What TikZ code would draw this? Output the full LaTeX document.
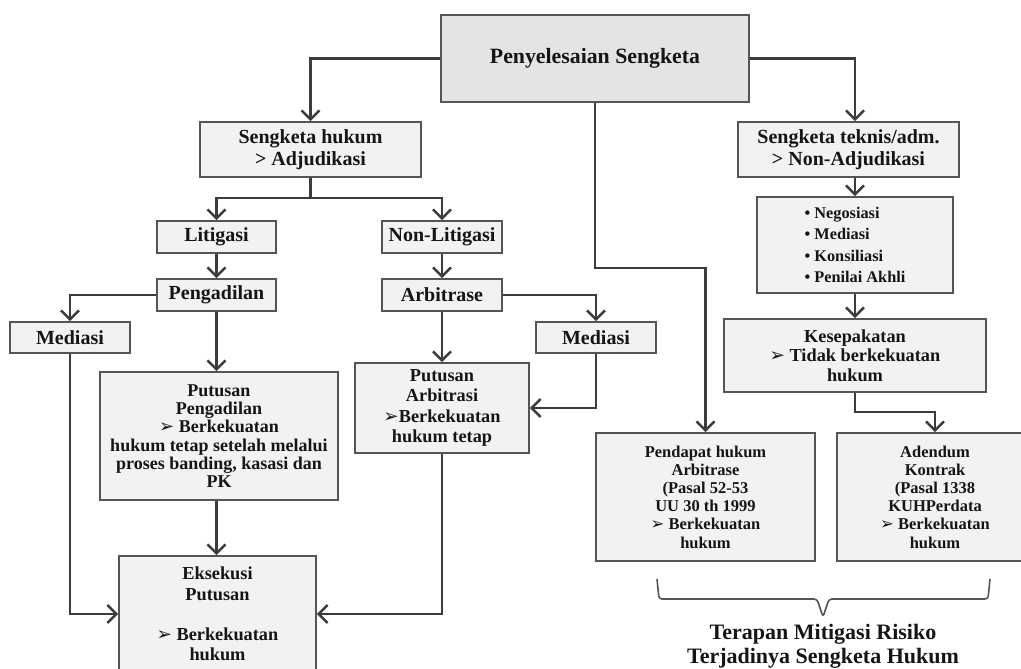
\documentclass[tikz,border=0pt]{standalone}
\usepackage{fontspec}
\setmainfont{Liberation Serif}
\newfontfamily\dejavu{DejaVu Sans}
\usetikzlibrary{arrows.meta}
\definecolor{linec}{HTML}{3C3C3C}
\definecolor{borderc}{HTML}{555555}
\definecolor{boxfill}{HTML}{F2F2F2}
\definecolor{topfill}{HTML}{E4E4E4}
\definecolor{txt}{HTML}{151515}
\newcommand\arw{{\dejavu\scalebox{1.0}{➢}}}
\newcommand\fsz[2]{\fontsize{#1}{#2}\selectfont\bfseries}
\tikzset{
  boxnode/.style={draw=borderc, line width=1.8pt, fill=boxfill, align=center, inner sep=0pt, text=txt},
  arr/.style={draw=linec, line width=2.6pt, -{Straight Barb[length=9pt,width=18pt,line width=2.4pt]}},
  plain/.style={draw=linec, line width=2.6pt},
  bracec/.style={draw=borderc, line width=1.6pt, line join=round}
}
\begin{document}
\begin{tikzpicture}[x=1pt,y=-1pt]
\useasboundingbox (0,0) rectangle (1021,669);
\begin{scope}
\clip (0,0) rectangle (1021,669);
% nodes
\node[boxnode, fill=topfill, minimum width=308pt, minimum height=87pt, font=\fsz{21.8}{24}] (top) at (595,58.5) {Penyelesaian Sengketa};
\node[boxnode, minimum width=221pt, minimum height=55pt, font=\fsz{20}{22}] (sh) at (310.5,149.5) {Sengketa hukum\\> Adjudikasi};
\node[boxnode, minimum width=221pt, minimum height=55pt, font=\fsz{20}{22}] (st) at (848.5,149.5) {Sengketa teknis/adm.\\> Non-Adjudikasi};
\node[boxnode, minimum width=119pt, minimum height=32pt, font=\fsz{20}{22}] (lit) at (216.5,237) {Litigasi};
\node[boxnode, minimum width=120pt, minimum height=32pt, font=\fsz{20}{22}] (nl) at (442,237) {Non-Litigasi};
\node[boxnode, minimum width=119pt, minimum height=32pt, font=\fsz{20}{22}] (peng) at (216.5,295) {Pengadilan};
\node[boxnode, minimum width=120pt, minimum height=32pt, font=\fsz{20}{22}] (arb) at (442,295) {Arbitrase};
\node[boxnode, minimum width=120pt, minimum height=31pt, font=\fsz{20}{22}] (med1) at (70,337.5) {Mediasi};
\node[boxnode, minimum width=120pt, minimum height=31pt, font=\fsz{20}{22}] (med2) at (596,337.5) {Mediasi};
\node[boxnode, minimum width=238pt, minimum height=128pt, font=\fsz{18}{18.3}] (pp) at (219,436) {Putusan\\Pengadilan\\\arw\ Berkekuatan\\hukum tetap setelah melalui\\proses banding, kasasi dan\\PK};
\node[boxnode, minimum width=174pt, minimum height=90pt, font=\fsz{18.3}{20.3}] (pa) at (442,408) {Putusan\\Arbitrasi\\\arw Berkekuatan\\hukum tetap};
\node[boxnode, minimum width=197pt, minimum height=116pt, font=\fsz{18.3}{20.2}] (eks) at (217.5,614) {Eksekusi\\Putusan\\[20.2pt]\arw\ Berkekuatan\\hukum};
\node[boxnode, minimum width=196pt, minimum height=96pt, font=\fsz{16.3}{21.5}, align=left] (bul) at (855,245) {• Negosiasi\\• Mediasi\\• Konsiliasi\\• Penilai Akhli};
\node[boxnode, minimum width=262pt, minimum height=73pt, font=\fsz{18.3}{19.6}] (kes) at (855,355.5) {Kesepakatan\\\arw\ Tidak berkekuatan\\hukum};
\node[boxnode, minimum width=219pt, minimum height=128pt, font=\fsz{16.5}{18.2}] (pend) at (705.5,497) {Pendapat hukum\\Arbitrase\\(Pasal 52-53\\UU 30 th 1999\\\arw\ Berkekuatan\\hukum};
\node[boxnode, minimum width=196pt, minimum height=128pt, font=\fsz{16.5}{18.2}] (ad) at (935,497) {Adendum\\Kontrak\\(Pasal 1338\\KUHPerdata\\\arw\ Berkekuatan\\hukum};
\node[align=center, inner sep=0pt, text=txt, font=\fsz{22}{24}] (terapan) at (823,646) {Terapan Mitigasi Risiko\\Terjadinya Sengketa Hukum};
% connectors
\draw[arr] (top.west) -| (sh.north);
\draw[arr] (top.east) -| (st.north -| bul.north);
\draw[arr] (top.south) -- ++(0,165) -| (pend.north);
\draw[arr] (sh.south) -- ++(0,20) -| (lit.north);
\draw[arr] (sh.south) -- ++(0,20) -| (nl.north);
\draw[arr] (lit.south) -- (peng.north);
\draw[arr] (nl.south) -- (arb.north);
\draw[arr] (peng.west) -| (med1.north);
\draw[arr] (arb.east) -| (med2.north);
\draw[arr] (peng.south) -- (peng.south |- pp.north);
\draw[arr] (arb.south) -- (pa.north);
\draw[arr] (pp.south -| peng.south) -- (peng.south |- eks.north);
\draw[arr] (med1.south) |- (eks.west);
\draw[arr] (pa.south) |- (eks.east);
\draw[arr] (med2.south) |- (pa.east);
\draw[arr] (st.south -| bul.north) -- (bul.north);
\draw[arr] (bul.south) -- (kes.north);
\draw[arr] (kes.south) -- ++(0,19) -| (ad.north);
% brace
\draw[bracec, rounded corners=3pt] (657,579) -- (659,599) -- (817,599) -- (823,617) -- (829,599) -- (988,599) -- (990,579);
\end{scope}
\end{tikzpicture}
\end{document}
